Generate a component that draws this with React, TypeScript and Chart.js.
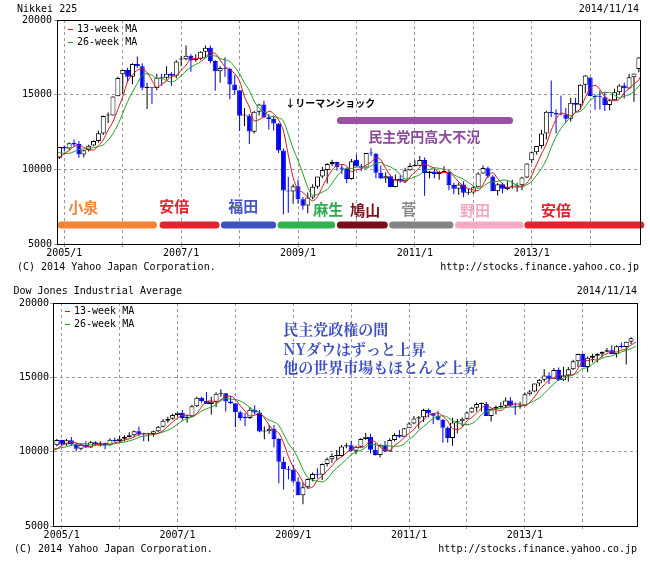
import React, { useEffect, useRef } from 'react';
import { Chart, registerables } from 'chart.js';

Chart.register(...registerables);

// ---------------- categories (monthly candles, Dec 2004 .. Nov 2014) ----------------
const months: string[] = Array.from({ length: 120 }, (_, i) => {
  const k = 11 + i;
  return `${2004 + Math.floor(k / 12)}/${(k % 12) + 1}`;
});
// months before the first candle, only used to start the moving averages
const priorMonths = ['2004/5', '2004/6', '2004/7', '2004/8', '2004/9', '2004/10', '2004/11'];

const gridYears = [2005, 2006, 2007, 2008, 2009, 2010, 2011, 2012, 2013, 2014];
const xTickLabels = ['2005/1', '2007/1', '2009/1', '2011/1', '2013/1'];
const yTicks = [5000, 10000, 15000, 20000];

// ---------------- Nikkei 225 ----------------
const nikkeiOpen = [
  10780,
  11517, 11390, 11760, 11700, 11000, 11300, 11600, 11900, 12400, 13600, 13600, 14900,
  16361, 16650, 16200, 17060, 16900, 15450, 15500, 15450, 16150, 16130, 16400, 16270,
  17350, 17380, 17600, 17300, 17400, 17880, 18150, 17250, 16570, 16790, 16730, 15680,
  15300, 13600, 13600, 12520, 13850, 14340, 13480, 13380, 13070, 11260, 8577, 8510,
  8860, 8000, 7570, 8110, 8830, 9520, 9960, 10360, 10490, 10130, 10030, 9350,
  10650, 10200, 10130, 11090, 11050, 9770, 9380, 9540, 8820, 9370, 9200, 9940,
  10230, 10240, 10620, 9750, 9850, 9690, 9820, 9830, 8950, 8700, 8990, 8430,
  8450, 8800, 9720, 10080, 9520, 8540, 9000, 8690, 8840, 8870, 8930, 9450,
  10600, 11140, 11560, 12400, 13860, 13770, 13680, 13670, 13390, 14450, 14330, 15660,
  16150, 14900, 14840, 14830, 14300, 14630, 15160, 15620, 15420, 16170, 16720,
];
const nikkeiHigh = [
  11500,
  11600, 11800, 12000, 11900, 11300, 11650, 11950, 12600, 13600, 13800, 14900, 16200,
  16650, 16800, 17100, 17563, 17100, 15800, 15500, 16400, 16400, 16900, 16500, 17300,
  17600, 18300, 17700, 17700, 17900, 18300, 18297, 17300, 16900, 17500, 16800, 16300,
  15300, 14100, 13700, 13900, 14400, 14600, 13700, 13600, 13100, 11400, 9500, 9000,
  9300, 8150, 8450, 9000, 9500, 10170, 10400, 10640, 10500, 10350, 10100, 10700,
  10982, 10350, 11100, 11408, 11100, 10250, 9800, 9600, 9650, 9600, 10100, 10400,
  10600, 10900, 10800, 9900, 10060, 9900, 10200, 9900, 9100, 9100, 9200, 8700,
  8900, 9800, 10255, 10190, 9600, 9100, 9100, 9200, 9300, 9100, 9500, 10400,
  11200, 11500, 12650, 13900, 15942, 14000, 14950, 14100, 14800, 14800, 15700, 16320,
  16164, 15000, 15300, 15200, 14700, 15400, 15700, 15800, 16400, 16400, 17520,
];
const nikkeiLow = [
  10700,
  11200, 11300, 11550, 10770, 10800, 11200, 11550, 11800, 12300, 13100, 13600, 14900,
  15059, 15800, 15700, 16800, 15300, 14045, 14400, 15300, 15600, 16000, 15600, 16100,
  16900, 17300, 16530, 17200, 17300, 17500, 17100, 15262, 15800, 16200, 14700, 15000,
  12573, 12900, 11691, 12400, 13600, 13400, 12671, 12600, 11100, 6994, 7100, 7700,
  7700, 7300, 7054, 8000, 8700, 9400, 9050, 10200, 9900, 9700, 9076, 9300,
  10200, 9867, 10100, 10900, 9400, 9350, 9100, 8800, 8800, 9100, 9100, 9900,
  10200, 10200, 8227, 9400, 9400, 9300, 9800, 8600, 8350, 8300, 8135, 8300,
  8350, 8800, 9700, 9400, 8600, 8240, 8400, 8600, 8700, 8500, 8600, 9400,
  10400, 11000, 11400, 12000, 13500, 12415, 13600, 13100, 13200, 13800, 14000, 15100,
  14900, 13995, 14000, 13910, 13964, 14600, 15000, 14750, 15400, 14529, 16500,
];
const nikkeiClose = [
  11489,
  11388, 11740, 11668, 11009, 11277, 11584, 11900, 12414, 13574, 13607, 14872, 16111,
  16650, 16205, 17060, 16906, 15467, 15505, 15457, 16141, 16128, 16399, 16274, 17226,
  17383, 17604, 17288, 17400, 17876, 18138, 17249, 16569, 16786, 16737, 15681, 15308,
  13592, 13603, 12526, 13850, 14338, 13481, 13377, 13073, 11260, 8577, 8512, 8860,
  7994, 7568, 8110, 8828, 9523, 9958, 10357, 10493, 10133, 10035, 9346, 10546,
  10198, 10126, 11090, 11057, 9769, 9383, 9537, 8824, 9369, 9202, 9937, 10229,
  10238, 10624, 9755, 9850, 9694, 9816, 9833, 8955, 8700, 8988, 8435, 8455,
  8803, 9723, 10084, 9521, 8543, 9007, 8695, 8840, 8870, 8928, 9446, 10395,
  11139, 11559, 12398, 13861, 13775, 13677, 13668, 13389, 14456, 14328, 15662, 16291,
  14915, 14841, 14828, 14304, 14632, 15162, 15621, 15425, 16174, 16414, 17490,
];
const nikkeiPriorClose = [11236, 11859, 11326, 11082, 10824, 10771, 10899];

// ---------------- Dow Jones Industrial Average ----------------
const dowOpen = [
  10428,
  10783, 10490, 10766, 10504, 10193, 10467, 10275, 10641, 10482, 10569, 10440, 10806,
  10718, 10865, 10993, 11109, 11367, 11168, 11150, 11186, 11381, 11679, 12081, 12222,
  12463, 12622, 12269, 12354, 13063, 13628, 13409, 13212, 13358, 13896, 13930, 13372,
  13265, 12650, 12266, 12263, 12820, 12638, 11350, 11378, 11544, 10851, 9325, 8829,
  8776, 8001, 7063, 7609, 8168, 8500, 8447, 9172, 9496, 9712, 9713, 10345,
  10428, 10067, 10325, 10857, 11009, 10137, 9774, 10466, 10015, 10788, 11118, 11006,
  11578, 11892, 12226, 12320, 12811, 12570, 12414, 12143, 11614, 10913, 11955, 12046,
  12218, 12633, 12952, 13212, 13214, 12393, 12880, 13009, 13091, 13437, 13096, 13026,
  13104, 13861, 14054, 14579, 14840, 15116, 14910, 15500, 14810, 15130, 15546, 16086,
  16577, 15699, 16322, 16458, 16581, 16717, 16827, 16563, 17098, 17043, 17391,
];
const dowHigh = [
  10850,
  10800, 10850, 10984, 10600, 10550, 10700, 10720, 10700, 10700, 10600, 10900, 10950,
  11050, 11100, 11300, 11420, 11670, 11270, 11250, 11400, 11720, 12200, 12350, 12550,
  12650, 12800, 12500, 13150, 13700, 13700, 14020, 13700, 14000, 14198, 13950, 13750,
  13280, 12760, 12600, 13000, 13130, 12800, 11700, 11800, 11800, 10900, 9650, 9030,
  9090, 8280, 7930, 8200, 8600, 8880, 9200, 9600, 9900, 10120, 10450, 10600,
  10730, 10400, 10900, 11260, 11200, 10600, 10500, 10720, 10900, 11250, 11450, 11600,
  12000, 12400, 12400, 12880, 12900, 12600, 12750, 12200, 11700, 12280, 12200, 12300,
  12700, 13000, 13300, 13300, 13340, 12900, 13100, 13330, 13650, 13660, 13300, 13350,
  13980, 14150, 14590, 14890, 15540, 15340, 15630, 15660, 15710, 15700, 16180, 16590,
  16590, 16400, 16590, 16630, 16740, 16980, 17150, 17150, 17350, 17400, 17700,
];
const dowLow = [
  10360,
  10368, 10400, 10400, 10012, 10100, 10250, 10250, 10400, 10350, 10156, 10400, 10650,
  10650, 10700, 10950, 11000, 11050, 10700, 10700, 11000, 11300, 11650, 11950, 12150,
  12350, 12100, 11940, 12350, 13000, 13250, 13200, 12500, 13000, 13700, 12700, 13200,
  11650, 12080, 11730, 12200, 12500, 11300, 10830, 11200, 10300, 7882, 7450, 8150,
  7900, 7060, 6470, 7500, 8000, 8200, 8090, 9000, 9250, 9430, 9670, 10230,
  10000, 9830, 10300, 10800, 9870, 9750, 9600, 9980, 10000, 10700, 10930, 11000,
  11600, 11850, 11550, 12000, 12300, 11860, 12100, 10600, 10600, 10400, 11230, 11700,
  12200, 12600, 12700, 12700, 12393, 12030, 12500, 12880, 12950, 13000, 12470, 12880,
  13100, 13780, 14000, 14400, 14700, 14550, 14900, 14760, 14750, 14720, 15500, 15700,
  15690, 15340, 16000, 16000, 16330, 16690, 16560, 16330, 16950, 15855, 17250,
];
const dowClose = [
  10783,
  10490, 10766, 10504, 10193, 10467, 10275, 10641, 10482, 10569, 10440, 10806, 10718,
  10865, 10993, 11109, 11367, 11168, 11150, 11186, 11381, 11679, 12081, 12222, 12463,
  12622, 12269, 12354, 13063, 13628, 13409, 13212, 13358, 13896, 13930, 13372, 13265,
  12650, 12266, 12263, 12820, 12638, 11350, 11378, 11544, 10851, 9325, 8829, 8776,
  8001, 7063, 7609, 8168, 8500, 8447, 9172, 9496, 9712, 9713, 10345, 10428,
  10067, 10325, 10857, 11009, 10137, 9774, 10466, 10015, 10788, 11118, 11006, 11578,
  11892, 12226, 12320, 12811, 12570, 12414, 12143, 11614, 10913, 11955, 12046, 12218,
  12633, 12952, 13212, 13214, 12393, 12880, 13009, 13091, 13437, 13096, 13026, 13104,
  13861, 14054, 14579, 14840, 15116, 14910, 15500, 14810, 15130, 15546, 16086, 16577,
  15699, 16322, 16458, 16581, 16717, 16827, 16563, 17098, 17043, 17391, 17634,
];
const dowPriorClose = [10188, 10435, 10140, 10174, 10080, 10027, 10428];

// ---------------- annotations (prime-minister eras on the Nikkei panel) ----------------
const eraNames = ['小泉', '安倍', '福田', '麻生', '鳩山', '菅', '野田', '安倍'];
const eraStart = [2004.885, 2006.63, 2007.68, 2008.649, 2009.665, 2010.559, 2011.688, 2012.874];
const eraEnd = [2006.586, 2007.657, 2008.626, 2009.636, 2010.537, 2011.659, 2012.857, 2014.927];
const eraLabelAt = [2005.068, 2006.625, 2007.805, 2009.259, 2009.892, 2010.765, 2011.774, 2013.16];
const eraLabelLevel = [7460, 7500, 7547, 7326, 7232, 7326, 7279, 7232];
const eraBarLevel = 6270;
const eraBarColors = ['#f5832f', '#e6212e', '#3f4fc4', '#2eb34f', '#7b0c1a', '#848484', '#f7aac5', '#e6212e'];
const eraTextColors = ['#f3853a', '#e02634', '#4756c0', '#31a856', '#7e0f1c', '#888888', '#f5a9c3', '#e02634'];

const lehmanText = '↓リーマンショック';
const lehmanAt = 2008.78;
const lehmanLevel = 14444;
const dpjText = '民主党円高大不況';
const dpjBarFrom = 2009.665;
const dpjBarTo = 2012.681;
const dpjBarLevel = 13277;
const dpjTextAt = 2010.2;
const dpjTextLevel = 12205;

const dowNotes = ['民主党政権の間', 'NYダウはずっと上昇', '他の世界市場もほとんど上昇'];
const dowNoteAt = 2008.827;
const dowNoteLevels = [18260, 16918, 15644];

// ---------------- styles ----------------
const MONO = '"DejaVu Sans Mono", monospace';
const JP = '"Noto Sans CJK JP", sans-serif';
const UP_FILL = '#ffffff';
const UP_LINE = '#000000';
const DOWN = '#0000f0';
const MA13_COLOR = '#d01818';
const MA26_COLOR = '#22a022';
const GRID = '#9a9a9a';

function monthToYear(label: string) {
  const [y, m] = label.split('/').map(Number);
  return y + (m - 1) / 12;
}

function movingAverage(xsAll: number[], closesAll: number[], n: number) {
  const pts: { x: number; y: number }[] = [];
  for (let j = n - 1; j < closesAll.length; j++) {
    let s = 0;
    for (let k = j - n + 1; k <= j; k++) s += closesAll[k];
    pts.push({ x: xsAll[j] + 1 / 12, y: s / n });
  }
  return pts;
}

function drawText(ctx: CanvasRenderingContext2D, text: string, x: number, y: number, font: string, color: string, align: CanvasTextAlign = 'left') {
  ctx.save();
  ctx.font = font;
  ctx.fillStyle = color;
  ctx.textAlign = align;
  ctx.textBaseline = 'middle';
  ctx.fillText(text, x, y);
  ctx.restore();
}

function roundBar(ctx: CanvasRenderingContext2D, x1: number, x2: number, y: number, color: string) {
  ctx.save();
  ctx.lineCap = 'round';
  ctx.lineWidth = 7;
  ctx.strokeStyle = color;
  ctx.beginPath();
  ctx.moveTo(x1 + 3.5, y);
  ctx.lineTo(x2 - 3.5, y);
  ctx.stroke();
  ctx.restore();
}

function annotateNikkei(chart: any) {
  const { ctx, scales } = chart;
  const xs = scales.x;
  const ys = scales.y;
  eraNames.forEach((name, i) => {
    roundBar(ctx, xs.getPixelForValue(eraStart[i]), xs.getPixelForValue(eraEnd[i]), ys.getPixelForValue(eraBarLevel), eraBarColors[i]);
    drawText(ctx, name, xs.getPixelForValue(eraLabelAt[i]), ys.getPixelForValue(eraLabelLevel[i]), `bold 15px ${JP}`, eraTextColors[i]);
  });
  drawText(ctx, lehmanText, xs.getPixelForValue(lehmanAt), ys.getPixelForValue(lehmanLevel), `bold 10px ${JP}`, '#000000');
  roundBar(ctx, xs.getPixelForValue(dpjBarFrom), xs.getPixelForValue(dpjBarTo), ys.getPixelForValue(dpjBarLevel), '#9b50a6');
  drawText(ctx, dpjText, xs.getPixelForValue(dpjTextAt), ys.getPixelForValue(dpjTextLevel), `bold 14px ${JP}`, '#8c4a9a');
}

function annotateDow(chart: any) {
  const { ctx, scales } = chart;
  dowNotes.forEach((t, i) => {
    drawText(ctx, t, scales.x.getPixelForValue(dowNoteAt), scales.y.getPixelForValue(dowNoteLevels[i]),
      `bold 15px "Noto Serif CJK JP", ${JP}`, '#3d4fbf');
  });
}

type Panel = {
  title: string;
  date: string;
  open: number[];
  high: number[];
  low: number[];
  close: number[];
  prior: number[];
  xMin: number;
  xMax: number;
  height: number;
  area: { left: number; right: number; top: number; bottom: number };
  titleX: number;
  titleY: number;
  rightX: number;
  dateY: number;
  legendX: number;
  legendTextX: number;
  legendY: number[];
  footerX: number;
  footerY: number;
  yLabelPad: number;
  annotate: (chart: any) => void;
};

const nikkeiPanel: Panel = {
  title: 'Nikkei 225',
  date: '2014/11/14',
  open: nikkeiOpen, high: nikkeiHigh, low: nikkeiLow, close: nikkeiClose, prior: nikkeiPriorClose,
  xMin: 2004.875, xMax: 2014.853,
  height: 280,
  area: { left: 57, right: 640, top: 20, bottom: 244 },
  titleX: 17, titleY: 9.5, rightX: 639, dateY: 9.5,
  legendX: 68, legendTextX: 77, legendY: [29.5, 42.5],
  footerX: 17, footerY: 267.5,
  yLabelPad: 2,
  annotate: annotateNikkei,
};

const dowPanel: Panel = {
  title: 'Dow Jones Industrial Average',
  date: '2014/11/14',
  open: dowOpen, high: dowHigh, low: dowLow, close: dowClose, prior: dowPriorClose,
  xMin: 2004.85, xMax: 2014.936,
  height: 291,
  area: { left: 53, right: 637, top: 23, bottom: 246 },
  titleX: 13.5, titleY: 11, rightX: 637, dateY: 11.5,
  legendX: 65, legendTextX: 74, legendY: [31.7, 44],
  footerX: 14, footerY: 269,
  yLabelPad: 1,
  annotate: annotateDow,
};

function buildConfig(p: Panel): any {
  const xs = months.map(monthToYear);
  const xsAll = priorMonths.map(monthToYear).concat(xs);
  const closesAll = p.prior.concat(p.close);
  const ma13 = movingAverage(xsAll, closesAll, 3);
  const ma26 = movingAverage(xsAll, closesAll, 6);
  const up = p.close.map((c, i) => c >= p.open[i]);
  const tickFont = { family: MONO, size: 10 };

  const overlay = {
    id: 'overlay',
    afterDatasetsDraw(chart: any) {
      p.annotate(chart);
    },
    afterDraw(chart: any) {
      const { ctx, chartArea } = chart;
      ctx.save();
      ctx.strokeStyle = '#000';
      ctx.lineWidth = 1;
      const l = Math.round(chartArea.left), t = Math.round(chartArea.top);
      const r = Math.round(chartArea.right), b = Math.round(chartArea.bottom);
      ctx.strokeRect(l + 0.5, t + 0.5, r - l, b - t);
      ctx.restore();
      const f = `10px ${MONO}`;
      drawText(ctx, p.title, p.titleX, p.titleY, f, '#000');
      drawText(ctx, p.date, p.rightX, p.dateY, f, '#000', 'right');
      drawText(ctx, '(C) 2014 Yahoo Japan Corporation.', p.footerX, p.footerY, f, '#000');
      drawText(ctx, 'http://stocks.finance.yahoo.co.jp', p.rightX, p.footerY, f, '#000', 'right');
      const legend = [['13-week MA', MA13_COLOR], ['26-week MA', MA26_COLOR]];
      legend.forEach(([label, color], i) => {
        const y = p.legendY[i];
        ctx.fillStyle = color;
        ctx.fillRect(p.legendX, Math.floor(y), 5, 1);
        drawText(ctx, label, p.legendTextX, y, f, '#000');
      });
    },
  };

  return {
    type: 'bar',
    data: {
      datasets: [
        {
          type: 'line', label: '13-week MA', data: ma13,
          borderColor: MA13_COLOR, borderWidth: 1, pointRadius: 0, order: 0,
          cubicInterpolationMode: 'monotone',
        },
        {
          type: 'line', label: '26-week MA', data: ma26,
          borderColor: MA26_COLOR, borderWidth: 1, pointRadius: 0, order: 0,
          cubicInterpolationMode: 'monotone',
        },
        {
          type: 'bar', label: 'body',
          data: xs.map((x, i) => ({ x, y: [p.open[i], p.close[i]] })),
          backgroundColor: up.map((u) => (u ? UP_FILL : DOWN)),
          borderColor: up.map((u) => (u ? UP_LINE : DOWN)),
          borderWidth: 1, borderSkipped: false, barThickness: 5, grouped: false,
          minBarLength: 1, inflateAmount: 0, order: 1,
        },
        {
          type: 'bar', label: 'wick',
          data: xs.map((x, i) => ({ x, y: [p.low[i], p.high[i]] })),
          backgroundColor: up.map((u) => (u ? UP_LINE : DOWN)),
          borderWidth: 0, barThickness: 1, grouped: false, inflateAmount: 0, order: 2,
        },
      ],
    },
    options: {
      responsive: false,
      animation: false,
      devicePixelRatio: 1,
      events: [],
      layout: {
        autoPadding: false,
        padding: { left: 0, top: p.area.top, right: 650 - p.area.right, bottom: 0 },
      },
      plugins: { legend: { display: false }, tooltip: { enabled: false }, title: { display: false } },
      scales: {
        x: {
          type: 'linear',
          min: p.xMin,
          max: p.xMax,
          offset: false,
          afterBuildTicks: (s: any) => { s.ticks = gridYears.map((v) => ({ value: v })); },
          afterFit: (s: any) => { s.height = p.height - p.area.bottom; },
          grid: { color: GRID, lineWidth: 1, offset: false, drawTicks: true, tickLength: 3 },
          border: { display: true, color: '#000', dash: [3, 3] },
          ticks: {
            autoSkip: false, maxRotation: 0, minRotation: 0, padding: 0, color: '#000', font: tickFont,
            callback: (v: number) => xTickLabels.find((l) => l.startsWith(`${v}/`)) ?? '',
          },
        },
        y: {
          type: 'linear',
          min: yTicks[0],
          max: yTicks[yTicks.length - 1],
          afterBuildTicks: (s: any) => { s.ticks = yTicks.map((v) => ({ value: v })); },
          afterFit: (s: any) => { s.width = p.area.left; },
          grid: { color: GRID, lineWidth: 1, drawTicks: true, tickLength: 3 },
          border: { display: true, color: '#000', dash: [3, 3] },
          ticks: { padding: p.yLabelPad, color: '#000', font: tickFont, callback: (v: number) => String(v) },
        },
      },
    },
    plugins: [overlay],
  };
}

function PanelChart({ panel, top }: { panel: Panel; top: number }) {
  const ref = useRef<HTMLCanvasElement>(null);
  useEffect(() => {
    if (!ref.current) return;
    const chart = new Chart(ref.current, buildConfig(panel));
    return () => chart.destroy();
  }, [panel]);
  return (
    <canvas
      ref={ref}
      width={650}
      height={panel.height}
      style={{ position: 'absolute', left: 0, top, width: 650, height: panel.height, display: 'block' }}
    />
  );
}

export default function App() {
  return (
    <div style={{ position: 'absolute', left: 0, top: 0, width: 650, height: 571, background: '#ffffff', overflow: 'hidden' }}>
      <PanelChart panel={nikkeiPanel} top={0} />
      <PanelChart panel={dowPanel} top={280} />
    </div>
  );
}
